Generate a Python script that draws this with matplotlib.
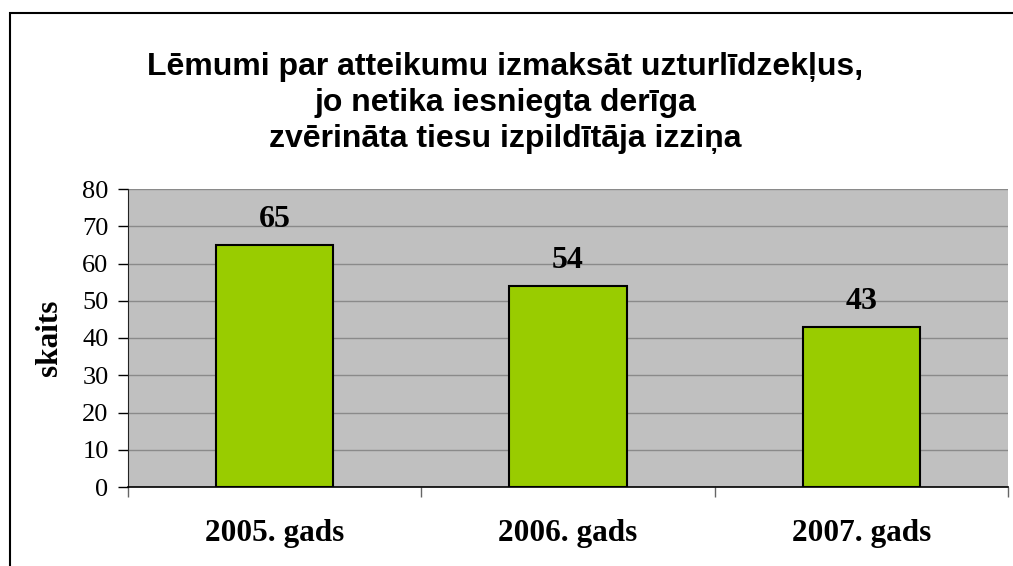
import matplotlib

matplotlib.use("Agg")
import matplotlib.pyplot as plt  # noqa: E402
from matplotlib.patches import Rectangle  # noqa: E402

TITLE = ("Lēmumi par atteikumu izmaksāt uzturlīdzekļus,\n"
         "jo netika iesniegta derīga\n"
         "zvērināta tiesu izpildītāja izziņa")
categories = ["2005. gads", "2006. gads", "2007. gads"]
values = [65, 54, 43]
y_ticks = [0, 10, 20, 30, 40, 50, 60, 70, 80]
y_label = "skaits"

PLOT_BG, BAR, GRID = "#c0c0c0", "#99cc00", "#8a8a8a"
SERIF, SANS = "Liberation Serif", "Liberation Sans"

fig = plt.figure(figsize=(10.13, 5.66), dpi=100)
fig.patch.set_facecolor("white")
ax = fig.add_axes([128 / 1013, 1 - 487 / 566, 880 / 1013, 298 / 566])
ax.set_facecolor(PLOT_BG)

xs = list(range(len(categories)))
ax.bar(xs, values, width=0.4, color=BAR, edgecolor="black", linewidth=1.5, zorder=3)
for x, v in zip(xs, values):
    ax.annotate(str(v), (x, v), xytext=(0, 13), textcoords="offset points",
                ha="center", va="baseline", fontsize=23, fontweight="bold",
                family=SERIF, zorder=4)

ax.set_xlim(-0.5, len(categories) - 0.5)
ax.set_ylim(0, 80)
ax.set_yticks(y_ticks)
ax.set_yticklabels([str(t) for t in y_ticks], family=SERIF, fontsize=19)
ax.tick_params(axis="y", direction="out", length=7, width=1, pad=7, color="black")
ax.grid(axis="y", color=GRID, linewidth=1, zorder=1)
ax.set_axisbelow(True)

# category boundaries carry the tick marks, centres carry the labels
ax.set_xticks([x - 0.5 for x in xs] + [xs[-1] + 0.5])
ax.set_xticklabels([])
ax.set_xticks(xs, minor=True)
ax.set_xticklabels(categories, minor=True, family=SERIF, fontsize=22.5, fontweight="bold")
ax.tick_params(axis="x", which="major", direction="out", length=7, width=1, color="#666666")
ax.tick_params(axis="x", which="minor", length=0, pad=23)

for side in ("top", "right"):
    ax.spines[side].set_visible(False)
ax.spines["left"].set_color("#222222")
ax.spines["bottom"].set_color("black")
ax.spines["bottom"].set_linewidth(1.2)

ax.set_ylabel(y_label, family=SERIF, fontsize=22.5, fontweight="bold")
ax.yaxis.set_label_coords(-0.073, 0.5)

fig.text(505 / 1013, 1 - 103 / 566, TITLE, ha="center", va="center", family=SANS,
         fontsize=23, fontweight="bold", linespacing=1.25)

fig.patches.append(Rectangle((10 / 1013, -0.1), 1.2, 1.1 - 13 / 566, transform=fig.transFigure,
                             fill=False, edgecolor="black", linewidth=1.5, clip_on=False))

fig.savefig("out.png", dpi=100)
